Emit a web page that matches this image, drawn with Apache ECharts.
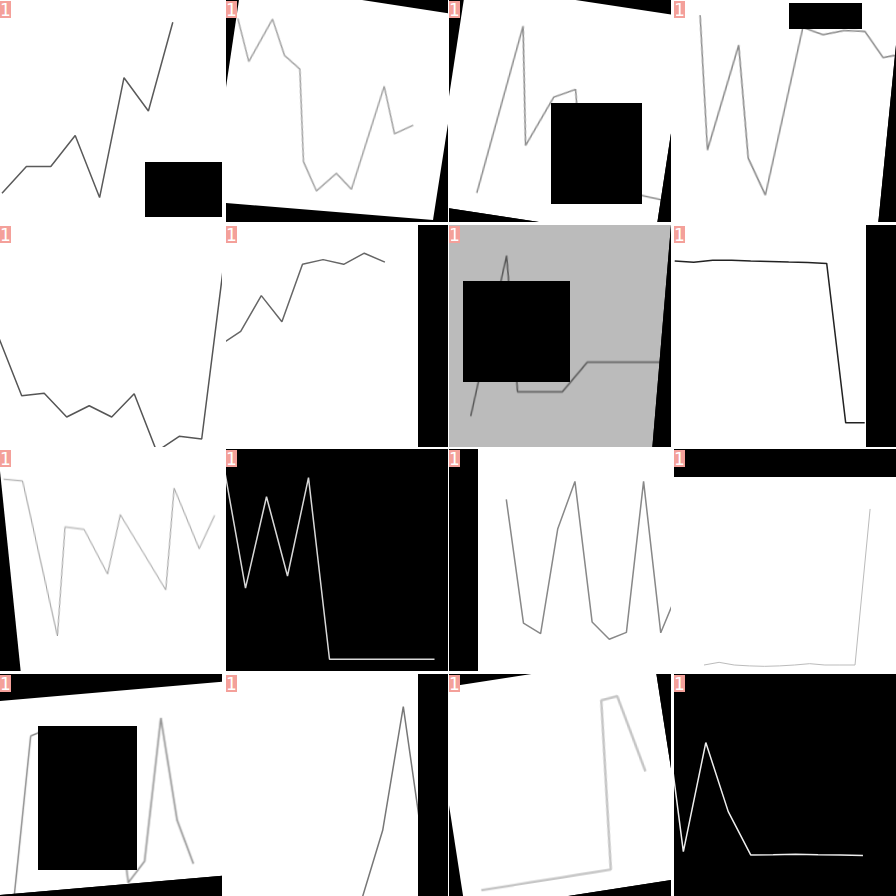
<!DOCTYPE html>
<html><head><meta charset="utf-8">
<script src="https://cdn.jsdelivr.net/npm/echarts@6/dist/echarts.min.js"></script>
<style>
html,body{margin:0;padding:0;background:#fff;width:896px;height:896px;overflow:hidden}
.tile{position:absolute;width:222px;height:222px;overflow:hidden;background:#000}
.layer{position:absolute}
.occ{position:absolute;background:#000}
.badge{position:absolute;left:0;top:1px;width:11px;height:17px;overflow:hidden;background:#f4a09a;color:#fff;font:17px "DejaVu Sans",sans-serif;line-height:18px;text-align:center}
</style></head><body>
<script>
// ---- data (0..100 scale of each panel) ----
const r0c0 = [13, 25, 25, 39, 11, 65, 50, 90];
const r0c1 = [84, 66, 86, 71, 66, 26, 14, 23, 17, 64, 44, 49];
const r0c2 = [8.6, 85, 32.7, 55.8, 60.7, 20.7, 20.2, 19.3, 18.6, 17.9];
const r0c3 = [84.8, 31.4, 74.4, 29.8, 15.8, 84, 81.9, 84.4, 84.9, 75.2, 77.6];
const r1c0 = [48.8, 23.1, 24.2, 13.5, 18.6, 13.5, 24, -2, 4.8, 3.6, 83.9];
const r1c1 = [45.9, 52.1, 68.2, 56.4, 82.3, 84.4, 82.3, 87.3, 83.3];
const r1c2 = [13.9, 86.2, 24.9, 24.9, 24.9, 38.2, 38.2, 38.2, 38.2, 38.2];
const r1c3 = [83.8, 83.2, 84.1, 84.1, 83.8, 83.6, 83.3, 83.1, 82.7, 10.9, 10.9];
const r2c0 = [86.4, 85.6, 15.8, 64.9, 63.8, 43.7, 70.4, 53.5, 36.5, 82.4, 55.1, 70.1];
const r2c1 = [90.5, 37.3, 78.5, 42.8, 87.1, 5.3, 5.3, 5.3, 5.3, 5.3, 5.3];
const r2c2 = [77.3, 21.6, 16.8, 64.1, 85.4, 22.1, 14.3, 17.4, 85.4, 17.2, 35.9];
const r2c3 = [2.7, 3.9, 2.7, 2.3, 2.1, 2.3, 2.7, 3.3, 2.7, 2.7, 2.7, 73];
const r3c0 = [0, 80.6, 83.5, 80.2, 74.3, 71, 65.7, 0.8, 11.1, 84.1, 30.8, 7.7];
const r3c1 = [-1, 29.6, 85.3, 20];
const r3c2 = [8.4, 8.5, 8.5, 8.6, 8.6, 8.6, 8.7, 8.7, 8.8, 83.7, 84.4, 49.5];
const r3c3 = [98.2, 20, 69.1, 38, 18.5, 18.6, 18.8, 18.6, 18.5, 18.2];
const badgeLabel = '1';

// ---- layout / style (kept separate from the data) ----
const COL_LEFT = [0, 226, 449, 674];
const ROW_TOP = [0, 225, 449, 674];
const FULL = [0, 0, 222, 222];
const BAR_R = [[192, 0, 30, 222]];
const panels = [
  {data: r0c0, x0: 2, dx: 24.4, box: FULL, bg: '#fff', color: '#5a5a5a', lw: 1.5, occ: [[145, 162, 77, 55]]},
  {data: r0c1, x0: 1.2, dx: 17.2, box: [-2.5, -2.5, 227, 227], tf: 'rotate(8.5deg)', bg: 'transparent',
   clip: 'polygon(15.7px -18.4px, 238.8px 15.7px, 207px 220px, -17px 201.6px)', color: '#a3a3a3', lw: 1.5},
  {data: r0c2, x0: 42.1, dx: 20.5, box: [-1.5, -1.5, 225, 225], tf: 'rotate(8.7deg)', bg: '#fff', color: '#8c8c8c', lw: 1.5, occ: [[102, 103, 91, 101]]},
  {data: r0c3, x0: 52.1, dx: 20.7, box: [-35.4, -16.1, 250, 250], tf: 'rotate(5.7deg)', bg: '#fff', color: '#8a8a8a', lw: 1.5, occ: [[115, 3, 73, 26]]},
  {data: r1c0, x0: -0.8, dx: 22.5, box: FULL, bg: '#fff', color: '#555', lw: 1.5},
  {data: r1c1, x0: -5.9, dx: 20.6, box: FULL, bg: '#fff', color: '#666', lw: 1.5, occ: BAR_R},
  {data: r1c2, x0: 37.8, dx: 22.4, box: [0, 0, 222, 222], padB: 10, tf: 'skewX(-4.8deg)', origin: '0 0', bg: '#bbbbbb', color: '#555', lw: 1.5, occ: [[14, 56, 107, 101]]},
  {data: r1c3, x0: 0.7, dx: 19, box: FULL, bg: '#fff', color: '#222', lw: 1.5, occ: BAR_R},
  {data: r2c0, x0: 2.7, dx: 18.85, box: [0, 0, 240, 222], padB: 10, tf: 'skewX(5.9deg)', origin: '0 22px', bg: '#fff', color: '#9a9a9a', lw: 1},
  {data: r2c1, x0: -1.5, dx: 21, box: FULL, bg: '#000', color: '#d8d8d8', lw: 1.5},
  {data: r2c2, x0: 57.3, dx: 17.16, box: FULL, bg: '#fff', color: '#888', lw: 1.5, occ: [[0, 0, 29, 222]]},
  {data: r2c3, x0: 30, dx: 15.1, box: FULL, bg: '#fff', color: '#bbb', lw: 1, occ: [[0, 0, 222, 28]]},
  {data: r3c0, x0: 14.4, dx: 16.27, box: [0, 27, 222, 194.4], tf: 'skewY(-4.94deg)', origin: '0 0', bg: '#fff', color: '#8a8a8a', lw: 1.5, occ: [[38, 52, 99, 144]]},
  {data: r3c1, x0: 136.1, dx: 20.6, box: FULL, bg: '#fff', color: '#777', lw: 1.5, occ: BAR_R},
  {data: r3c2, x0: 18.9, dx: 16.4, box: [-2, -3, 225, 225], tf: 'rotate(-8.8deg)', bg: '#fff', color: '#c6c6c6', lw: 2.5},
  {data: r3c3, x0: -13.1, dx: 22.45, box: FULL, bg: '#000', color: '#eee', lw: 1.5}
];

panels.forEach((p, k) => {
  const tile = document.createElement('div');
  tile.className = 'tile';
  tile.style.left = COL_LEFT[k % 4] + 'px';
  tile.style.top = ROW_TOP[Math.floor(k / 4)] + 'px';
  document.body.appendChild(tile);

  if (p.clip) {
    const w = document.createElement('div');
    w.className = 'layer';
    w.style.cssText = 'left:0;top:0;width:222px;height:222px;background:#fff;clip-path:' + p.clip;
    tile.appendChild(w);
  }
  const [bx, by, bw, bh0] = p.box;
  const padB = p.padB || 0;
  const bh = bh0 + padB;
  const c = document.createElement('div');
  c.className = 'layer';
  c.style.left = bx + 'px'; c.style.top = by + 'px';
  c.style.width = bw + 'px'; c.style.height = bh + 'px';
  if (p.tf) { c.style.transform = p.tf; c.style.transformOrigin = p.origin || '50% 50%'; }
  tile.appendChild(c);

  const chart = echarts.init(c, null, {renderer: 'canvas', width: bw, height: bh});
  chart.setOption({
    animation: false,
    backgroundColor: p.bg,
    grid: {left: 0, right: 0, top: 0, bottom: padB},
    xAxis: {type: 'value', min: -p.x0 / p.dx, max: (bw - p.x0) / p.dx, show: false},
    yAxis: {type: 'value', min: 0, max: 100, show: false},
    series: [{
      type: 'line',
      data: p.data.map((v, i) => [i, v]),
      showSymbol: false, symbol: 'none', silent: true, clip: true,
      lineStyle: {color: p.color, width: p.lw},
      emphasis: {disabled: true}
    }]
  });

  (p.occ || []).forEach(([x, y, w, h]) => {
    const o = document.createElement('div');
    o.className = 'occ';
    o.style.left = x + 'px'; o.style.top = y + 'px';
    o.style.width = w + 'px'; o.style.height = h + 'px';
    tile.appendChild(o);
  });

  const b = document.createElement('div');
  b.className = 'badge';
  b.textContent = badgeLabel;
  tile.appendChild(b);
});
</script>
</body></html>
